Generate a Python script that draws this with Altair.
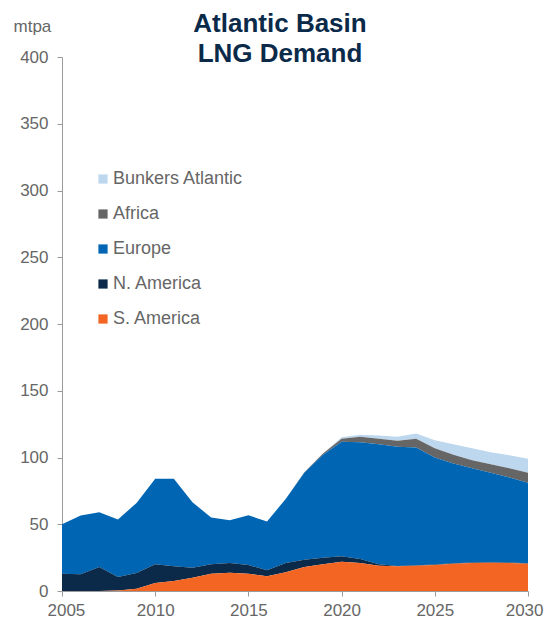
import altair as alt
import pandas as pd

years = list(range(2005, 2031))
s_america = [0, 0, 0, 0.3, 1.7, 6, 7.5, 10, 13, 13.7, 13, 11, 14, 18, 20, 22, 21, 19, 18.5, 19, 19.5, 20.5, 21, 21.2, 21, 20.5]
n_america = [13, 12.5, 18, 10.2, 11.8, 14, 11, 7.5, 7, 7.3, 6.5, 4.5, 7, 5.5, 5, 4, 3, 1, 0.3, 0.3, 0.3, 0.3, 0.3, 0.3, 0.3, 0.3]
europe = [37, 44, 41, 43, 52.5, 64, 65.5, 49, 35, 32, 37.2, 36.5, 48, 65, 77, 85.8, 87.5, 90, 89.2, 88.2, 80.2, 74.7, 70.7, 67, 63.7, 60.2]
africa = [0, 0, 0, 0, 0, 0, 0, 0, 0, 0, 0, 0, 0, 0.5, 1, 2.3, 4, 4, 4.5, 6.5, 7, 6.5, 6, 6.5, 7, 7.5]
bunkers = [0, 0, 0, 0, 0, 0, 0, 0, 0, 0, 0, 0, 0, 0, 0, 1, 1.5, 2.5, 3, 4, 6, 8, 9, 9, 9.7, 10.5]

series_names = ["Bunkers Atlantic", "Africa", "Europe", "N. America", "S. America"]
series_colors = ["#BDD7EE", "#666666", "#0066B3", "#0B2A4A", "#F26522"]
series_values = [bunkers, africa, europe, n_america, s_america]

rows = []
for name, vals in zip(series_names, series_values):
    order = 4 - series_names.index(name)
    for y, v in zip(years, vals):
        rows.append({"year": y, "series": name, "value": v, "ord": order})
df = pd.DataFrame(rows)

chart = alt.Chart(df).mark_area(interpolate="linear").encode(
    x=alt.X("year:Q", scale=alt.Scale(domain=[2005, 2030], nice=False),
            axis=alt.Axis(values=[2005, 2010, 2015, 2020, 2025, 2030], format="d", title=None,
                          labelFontSize=17, labelColor="#666666", domainColor="#9a9a9a",
                          tickColor="#9a9a9a", tickSize=5, grid=False, labelPadding=6,
                          labelFlush=True, labelFlushOffset=15)),
    y=alt.Y("value:Q", stack="zero", scale=alt.Scale(domain=[0, 400], nice=False),
            axis=alt.Axis(values=list(range(0, 401, 50)), title="mtpa", titleAngle=0,
                          titleX=-49, titleY=-26, titleAlign="left", titleBaseline="alphabetic",
                          titleFontSize=17, titleFontWeight="normal", titleColor="#666666",
                          labelFontSize=17, labelColor="#666666", domainColor="#9a9a9a",
                          tickColor="#9a9a9a", tickSize=5, grid=False, labelPadding=9)),
    color=alt.Color("series:N", scale=alt.Scale(domain=series_names, range=series_colors),
                    legend=alt.Legend(orient="none", legendX=32, legendY=113, title=None,
                                      symbolType="square", symbolSize=85, symbolStrokeWidth=0,
                                      labelFontSize=18, labelColor="#666666", rowPadding=17,
                                      labelOffset=1)),
    order=alt.Order("ord:Q", sort="ascending"),
).properties(
    width=466, height=534,
    padding={"left": 54, "top": 49, "right": 16, "bottom": 31},
    autosize=alt.AutoSizeParams(type="none"),
    title=alt.TitleParams(text=["Atlantic Basin", "LNG Demand"], fontSize=26, fontWeight="bold",
                          color="#0B2A4A", font="Liberation Sans", anchor="middle", dx=-15,
                          frame="group", offset=-9, dy=41, lineHeight=30),
).configure(font="Liberation Sans").configure_view(stroke=None)

chart.save("out.html", embed_options={"renderer": "svg", "actions": False})
